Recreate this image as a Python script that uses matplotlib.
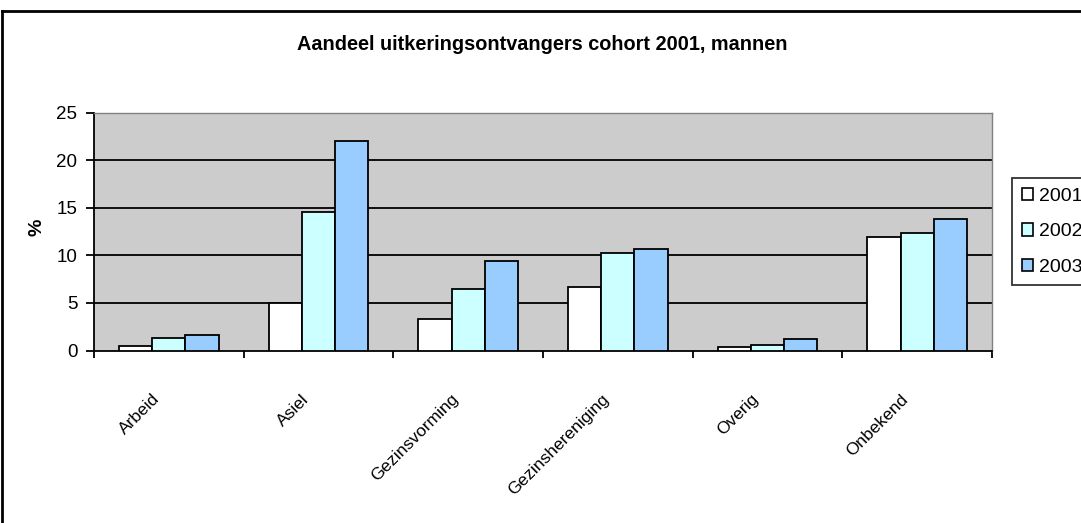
import matplotlib
matplotlib.use("Agg")
import matplotlib.pyplot as plt
import matplotlib.transforms as mtransforms
from matplotlib.lines import Line2D
from matplotlib.patches import Patch
import numpy as np

plt.rcParams['font.family'] = ['Liberation Sans', 'DejaVu Sans']

categories = ["Arbeid", "Asiel", "Gezinsvorming", "Gezinshereniging", "Overig", "Onbekend"]
series_names = ["2001", "2002", "2003"]
v2001 = [0.5, 4.95, 3.3, 6.65, 0.35, 11.95]
v2002 = [1.35, 14.6, 6.45, 10.2, 0.55, 12.35]
v2003 = [1.6, 22.0, 9.4, 10.65, 1.2, 13.85]
colors = ["#FFFFFF", "#CCFFFF", "#99CCFF"]
yticks = [0, 5, 10, 15, 20, 25]
title = "Aandeel uitkeringsontvangers cohort 2001, mannen"

W, H = 1081, 523
fig = plt.figure(figsize=(W / 100, H / 100), dpi=100)
fig.patch.set_facecolor("white")

x0, x1, ytop, ybot = 94, 992, 112.5, 350.5
ax = fig.add_axes([x0 / W, 1 - ybot / H, (x1 - x0) / W, (ybot - ytop) / H])
ax.set_facecolor("#CCCCCC")

n = len(categories)
x = np.arange(n) + 0.5
bw = 1 / 4.5
for i, (vals, c) in enumerate(zip([v2001, v2002, v2003], colors)):
    ax.bar(x + (i - 1) * bw, vals, width=bw, color=c, edgecolor="black",
           linewidth=1.3, zorder=3, label=series_names[i])

ax.set_xlim(0, n)
ax.set_ylim(0, 25)
ax.set_yticks(yticks)
ax.set_yticklabels([str(t) for t in yticks], fontsize=13.5)
for t in yticks[1:-1]:
    ax.axhline(t, color="black", linewidth=1.3, zorder=1)

ax.set_xticks(np.arange(n + 1), minor=False)
ax.set_xticklabels([])
ax.tick_params(axis="x", which="major", direction="out", length=5, width=1.3)
ax.tick_params(axis="y", direction="out", length=6, width=1.3, pad=6)

for s in ["left", "bottom"]:
    ax.spines[s].set_color("black")
    ax.spines[s].set_linewidth(1.3)
for s in ["top", "right"]:
    ax.spines[s].set_color("#808080")
    ax.spines[s].set_linewidth(1.0)

# category labels
for xi, lab in zip(x, categories):
    off = mtransforms.offset_copy(ax.get_xaxis_transform(), fig=fig, x=-17, y=-41, units="dots")
    ax.text(xi, 0, lab, transform=off, rotation=45, rotation_mode="anchor",
            ha="right", va="top", fontsize=12.5)

fig.text(37 / W, 1 - 227 / H, "%", rotation=90, fontsize=14, fontweight="bold",
         ha="center", va="center")

fig.text(542 / W, 1 - 45 / H, title, fontsize=14.3, fontweight="bold",
         ha="center", va="center")

# legend
handles = [Patch(facecolor=c, edgecolor="black", linewidth=1.2) for c in colors]
leg = fig.legend(handles, series_names, loc="upper left",
                 bbox_to_anchor=(1012 / W, 1 - 178 / H), fontsize=14,
                 frameon=True, fancybox=False, edgecolor="black",
                 handlelength=0.6, handleheight=0.6, handletextpad=0.3,
                 labelspacing=0.95, borderpad=0.5, borderaxespad=0)
leg.get_frame().set_linewidth(1.3)

# outer border (left and top visible)
fig.add_artist(Line2D([2 / W, 2 / W], [0, 1 - 11 / H], transform=fig.transFigure,
                      color="black", linewidth=2))
fig.add_artist(Line2D([2 / W, 1], [1 - 11 / H, 1 - 11 / H], transform=fig.transFigure,
                      color="black", linewidth=2))

fig.savefig("out.png", dpi=100)
